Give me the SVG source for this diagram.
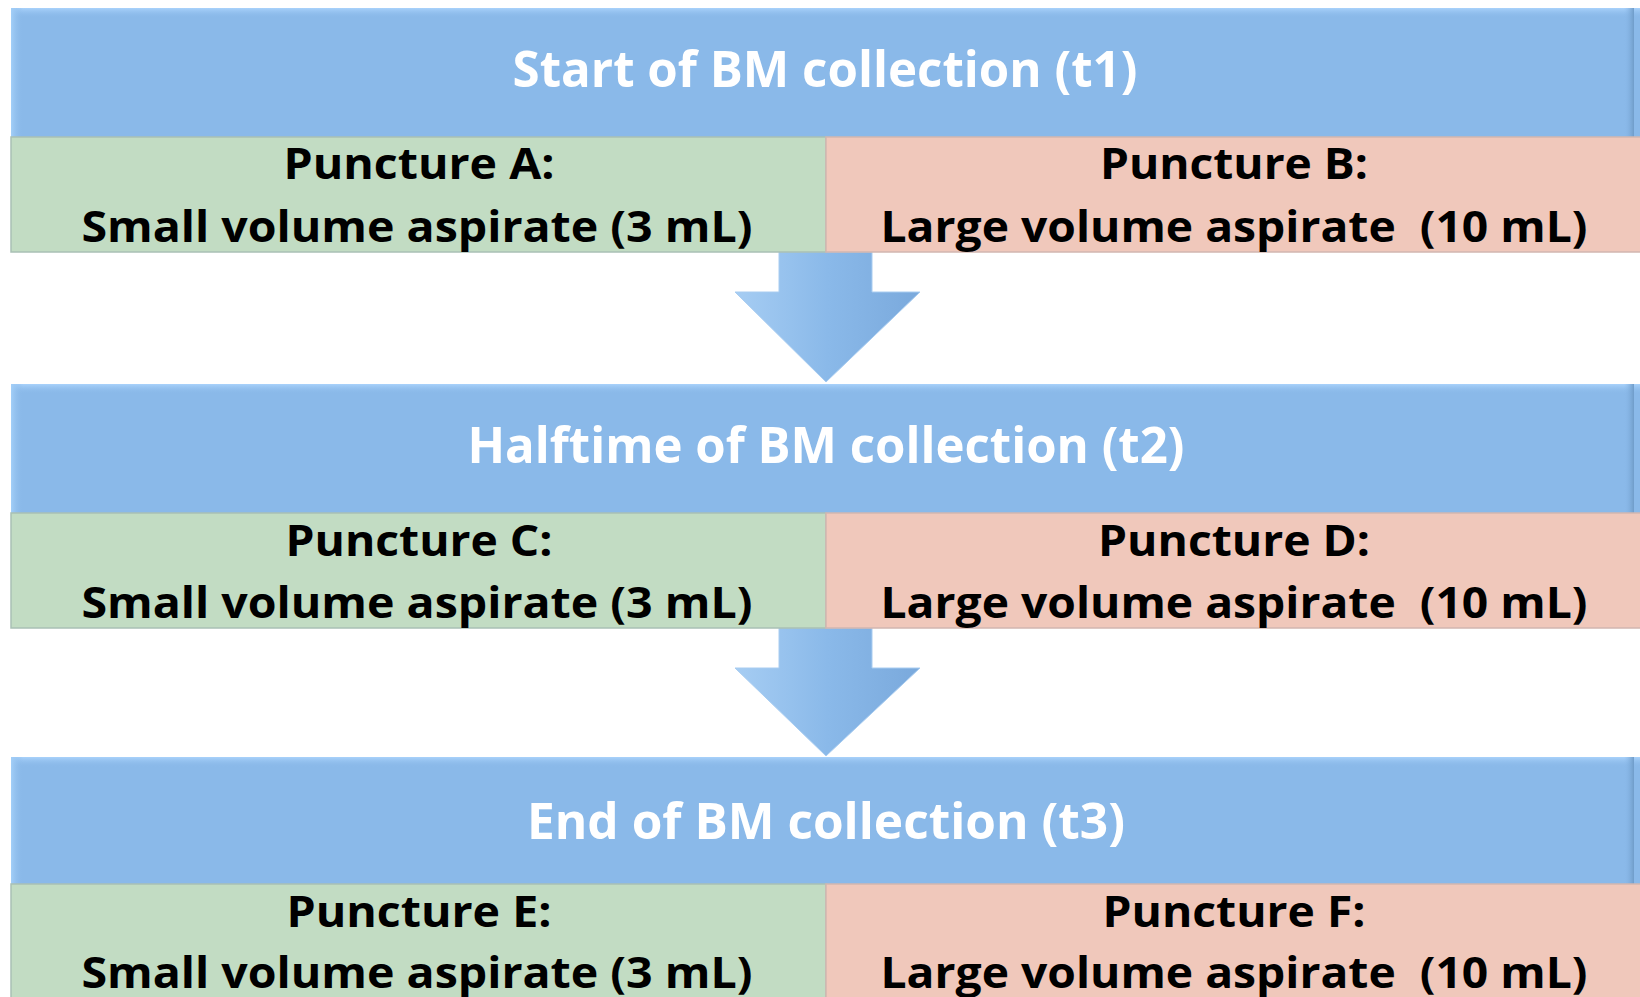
<svg xmlns="http://www.w3.org/2000/svg" width="1640" height="997" viewBox="0 0 1640 997">
<style>
.bar{fill:#8ab9e9}
.g{fill:#c2dcc3;stroke:#a9c0b5;stroke-width:1.5}
.p{fill:#f0c8bb;stroke:#d2b6b0;stroke-width:1.5}
.title{font-family:"Open Sans",Lato,sans-serif;font-weight:bold;font-size:51px;fill:#ffffff;text-anchor:middle}
.lbl{font-family:"Open Sans",Lato,sans-serif;font-weight:bold;font-size:43px;fill:#000000;text-anchor:middle}
.arrow{fill:url(#ag);stroke:#a8ccf0;stroke-width:1}
</style>
<defs>
<linearGradient id="ag" x1="0" y1="0" x2="1" y2="0">
<stop offset="0" stop-color="#a6cdf3"/>
<stop offset="0.5" stop-color="#8ab9e9"/>
<stop offset="1" stop-color="#7aa9dc"/>
</linearGradient>
<linearGradient id="topedge" x1="0" y1="0" x2="0" y2="1">
<stop offset="0" stop-color="#a9d2fb"/>
<stop offset="1" stop-color="#8ab9e9" stop-opacity="0"/>
</linearGradient>
<linearGradient id="rightedge" x1="0" y1="0" x2="1" y2="0">
<stop offset="0" stop-color="#8ab9e9" stop-opacity="0"/>
<stop offset="1" stop-color="#6f9cc9"/>
</linearGradient>
<linearGradient id="leftedge" x1="0" y1="0" x2="1" y2="0">
<stop offset="0" stop-color="#a3cff8"/>
<stop offset="1" stop-color="#8ab9e9" stop-opacity="0"/>
</linearGradient>
</defs>

<g id="connectors">
<path class="arrow" d="M779,252 L872,252 L872,292 L920,292 L826,382 L735,292 L779,292 Z"/>
<path class="arrow" d="M779,628 L872,628 L872,668 L920,668 L826,756 L735,668 L779,668 Z"/>
</g>

<g id="t1">
<rect class="bar" x="11" y="8" width="1629" height="129"/>
<rect x="11" y="8" width="1629" height="10" fill="url(#topedge)"/>
<rect x="11" y="8" width="12" height="129" fill="url(#leftedge)"/>
<rect x="1624" y="8" width="10" height="129" fill="url(#rightedge)"/>
<text class="title" x="825" y="87" textLength="625" lengthAdjust="spacingAndGlyphs">Start of BM collection (t1)</text>
</g>
<g id="punctureA">
<rect class="g" x="11" y="137" width="815" height="115"/>
<text class="lbl" x="419" y="179" textLength="271" lengthAdjust="spacingAndGlyphs">Puncture A:</text>
<text class="lbl" x="417" y="242" textLength="671" lengthAdjust="spacingAndGlyphs">Small volume aspirate (3 mL)</text>
</g>
<g id="punctureB">
<rect class="p" x="826" y="137" width="816" height="115"/>
<text class="lbl" x="1234" y="179" textLength="268" lengthAdjust="spacingAndGlyphs">Puncture B:</text>
<text class="lbl" x="1234" y="242" textLength="707" lengthAdjust="spacingAndGlyphs" xml:space="preserve">Large volume aspirate  (10 mL)</text>
</g>

<g id="t2">
<rect class="bar" x="11" y="384" width="1629" height="129"/>
<rect x="11" y="384" width="1629" height="10" fill="url(#topedge)"/>
<rect x="11" y="384" width="12" height="129" fill="url(#leftedge)"/>
<rect x="1624" y="384" width="10" height="129" fill="url(#rightedge)"/>
<text class="title" x="826" y="463" textLength="717" lengthAdjust="spacingAndGlyphs">Halftime of BM collection (t2)</text>
</g>
<g id="punctureC">
<rect class="g" x="11" y="513" width="815" height="115"/>
<text class="lbl" x="419" y="556" textLength="267" lengthAdjust="spacingAndGlyphs">Puncture C:</text>
<text class="lbl" x="417" y="618" textLength="671" lengthAdjust="spacingAndGlyphs">Small volume aspirate (3 mL)</text>
</g>
<g id="punctureD">
<rect class="p" x="826" y="513" width="816" height="115"/>
<text class="lbl" x="1234" y="556" textLength="272" lengthAdjust="spacingAndGlyphs">Puncture D:</text>
<text class="lbl" x="1234" y="618" textLength="707" lengthAdjust="spacingAndGlyphs" xml:space="preserve">Large volume aspirate  (10 mL)</text>
</g>

<g id="t3">
<rect class="bar" x="11" y="757" width="1629" height="127"/>
<rect x="11" y="757" width="1629" height="10" fill="url(#topedge)"/>
<rect x="11" y="757" width="12" height="127" fill="url(#leftedge)"/>
<rect x="1624" y="757" width="10" height="127" fill="url(#rightedge)"/>
<text class="title" x="826" y="839" textLength="598" lengthAdjust="spacingAndGlyphs">End of BM collection (t3)</text>
</g>
<g id="punctureE">
<rect class="g" x="11" y="884" width="815" height="120"/>
<text class="lbl" x="419" y="927" textLength="265" lengthAdjust="spacingAndGlyphs">Puncture E:</text>
<text class="lbl" x="417" y="988" textLength="671" lengthAdjust="spacingAndGlyphs">Small volume aspirate (3 mL)</text>
</g>
<g id="punctureF">
<rect class="p" x="826" y="884" width="816" height="120"/>
<text class="lbl" x="1234" y="927" textLength="263" lengthAdjust="spacingAndGlyphs">Puncture F:</text>
<text class="lbl" x="1234" y="988" textLength="707" lengthAdjust="spacingAndGlyphs" xml:space="preserve">Large volume aspirate  (10 mL)</text>
</g>
</svg>
